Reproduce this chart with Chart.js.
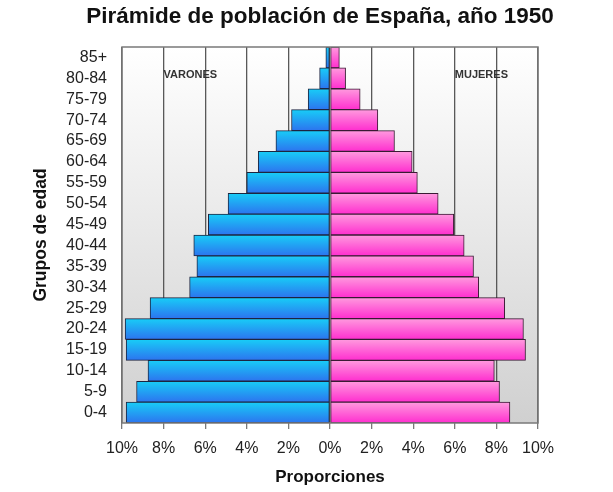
<!DOCTYPE html>
<html>
<head>
<meta charset="utf-8">
<script src="https://cdn.jsdelivr.net/npm/chart.js@4.4.1/dist/chart.umd.min.js"></script>
<style>
  html, body { margin: 0; padding: 0; background: #fff; }
  #wrap { width: 613px; height: 492px; }
</style>
</head>
<body>
<div id="wrap"><canvas id="piramide"></canvas></div>
<script>
// grupos de edad, de mayor a menor (arriba -> abajo)
const grupos = ['85+', '80-84', '75-79', '70-74', '65-69', '60-64', '55-59', '50-54', '45-49',
                '40-44', '35-39', '30-34', '25-29', '20-24', '15-19', '10-14', '5-9', '0-4'];
// proporciones en %
const varones = [0.2, 0.5, 1.05, 1.85, 2.6, 3.45, 4.0, 4.9, 5.85,
                 6.55, 6.4, 6.75, 8.65, 9.85, 9.8, 8.75, 9.3, 9.8];
const mujeres = [0.45, 0.75, 1.45, 2.3, 3.1, 3.95, 4.2, 5.2, 5.95,
                 6.45, 6.9, 7.15, 8.4, 9.3, 9.4, 7.9, 8.15, 8.65];
const ticksX = [-10, -8, -6, -4, -2, 0, 2, 4, 6, 8, 10];
const titulo = 'Pirámide de población de España, año 1950';
const FUENTE = '"Liberation Sans", Arial, sans-serif';

// degradado vertical por barra, usando la escala y
function degradado(top, bottom) {
    return function(c) {
        const chart = c.chart;
        const y = chart.scales && chart.scales.y;
        if (!y || c.dataIndex === undefined) return bottom;
        const centro = y.getPixelForValue(c.dataIndex);
        const h = Math.abs(y.getPixelForValue(1) - y.getPixelForValue(0)) / 2;
        if (!isFinite(centro) || !isFinite(h) || h <= 0) return bottom;
        const g = chart.ctx.createLinearGradient(0, centro - h, 0, centro + h);
        g.addColorStop(0, top);
        g.addColorStop(1, bottom);
        return g;
    };
}

const fondoPlot = {
    id: 'fondoPlot',
    beforeDraw(chart) {
        const { ctx, chartArea: a } = chart;
        const g = ctx.createLinearGradient(0, a.top, 0, a.bottom);
        g.addColorStop(0, '#ffffff');
        g.addColorStop(1, '#d0d0d0');
        ctx.save();
        ctx.fillStyle = g;
        ctx.fillRect(a.left, a.top, a.right - a.left, a.bottom - a.top);
        // titulo centrado como en el original
        ctx.fillStyle = '#111';
        ctx.font = 'bold 22.5px ' + FUENTE;
        ctx.textAlign = 'center';
        ctx.textBaseline = 'middle';
        ctx.fillText(titulo, 320, 17);
        ctx.restore();
    },
    afterDatasetsDraw(chart) {
        const { ctx, chartArea: a, scales } = chart;
        ctx.save();
        ctx.strokeStyle = '#7a7a7a';
        ctx.lineWidth = 1.5;
        ctx.strokeRect(a.left, a.top, a.right - a.left, a.bottom - a.top);
        ctx.fillStyle = '#333';
        ctx.font = 'bold 11px ' + FUENTE;
        ctx.textBaseline = 'middle';
        ctx.textAlign = 'left';
        const yy = scales.y.getPixelForValue(1) - 3;
        ctx.fillText('VARONES', scales.x.getPixelForValue(-8), yy);
        ctx.fillText('MUJERES', scales.x.getPixelForValue(6), yy);
        ctx.restore();
    }
};

const ctx = document.getElementById('piramide').getContext('2d');
new Chart(ctx, {
    type: 'bar',
    data: {
        labels: grupos,
        datasets: [{
            label: 'Varones',
            data: varones.map(v => -v),
            backgroundColor: degradado('#18cdf7', '#2c74ef'),
            borderColor: '#1d2540',
            borderWidth: 1,
            borderSkipped: false
        }, {
            label: 'Mujeres',
            data: mujeres,
            backgroundColor: degradado('#ff9ade', '#ff2ecf'),
            borderColor: '#3a1a34',
            borderWidth: 1,
            borderSkipped: false
        }]
    },
    options: {
        indexAxis: 'y',
        responsive: true,
        maintainAspectRatio: false,
        animation: false,
        layout: { padding: { left: 0, right: 75, top: 47, bottom: 0 } },
        datasets: { bar: { barPercentage: 1, categoryPercentage: 1 } },
        plugins: {
            legend: { display: false },
            tooltip: { enabled: false },
            title: { display: false }
        },
        scales: {
            x: {
                stacked: true,
                min: -10,
                max: 10,
                afterBuildTicks: s => { s.ticks = ticksX.map(v => ({ value: v })); },
                afterFit: s => { s.height = 69; },
                grid: {
                    color: '#585858',
                    lineWidth: 1.3,
                    drawTicks: true,
                    tickLength: 6,
                    tickColor: '#7a7a7a'
                },
                border: { display: false },
                ticks: {
                    color: '#222',
                    padding: 10,
                    maxRotation: 0,
                    autoSkip: false,
                    font: { family: FUENTE, size: 16 },
                    callback: v => Math.abs(v) + '%'
                },
                title: {
                    display: true,
                    text: 'Proporciones',
                    color: '#111',
                    font: { family: FUENTE, size: 17, weight: 'bold' },
                    padding: { top: 11 }
                }
            },
            y: {
                stacked: true,
                afterFit: s => { s.width = 122; },
                grid: { display: false },
                border: { display: false },
                ticks: {
                    color: '#222',
                    padding: 7,
                    autoSkip: false,
                    font: { family: FUENTE, size: 16 }
                },
                title: {
                    display: true,
                    text: 'Grupos de edad',
                    color: '#111',
                    font: { family: FUENTE, size: 17.5, weight: 'bold' },
                    padding: { top: 31, bottom: 0 }
                }
            }
        }
    },
    plugins: [fondoPlot]
});
</script>
</body>
</html>
